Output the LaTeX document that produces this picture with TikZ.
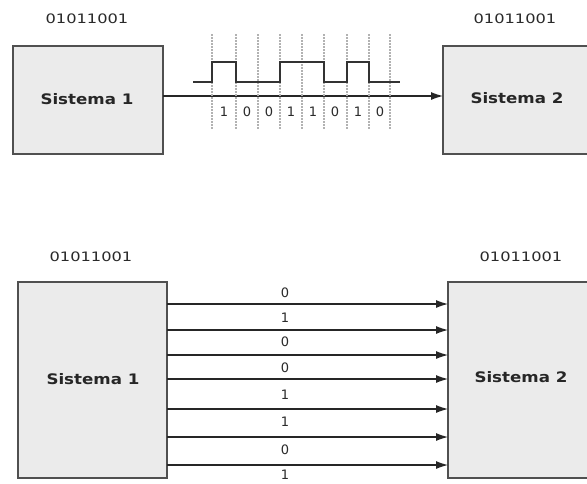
\documentclass[tikz,border=0pt]{standalone}
\usepackage{fontspec}
\setmainfont{DejaVu Sans}
\usetikzlibrary{arrows.meta}
\definecolor{boxfill}{HTML}{EBEBEB}
\definecolor{boxline}{HTML}{505050}
\definecolor{txt}{HTML}{2A2A2A}
\newcommand{\wid}[2]{\scalebox{#1}[1]{#2}}
\tikzset{
  px/.style={x=1pt,y=-1pt},
  sysbox/.style={draw=boxline,fill=boxfill,line width=1.4pt,inner sep=0pt},
  systext/.style={font=\fontsize{14.5}{16}\selectfont\bfseries,text=black!85},
  word/.style={font=\fontsize{13}{15}\selectfont,text=txt},
  bit/.style={font=\fontsize{13}{15}\selectfont,text=txt},
  conn/.style={line width=1.1pt,draw=black!85,-{Latex[length=12pt,width=8pt]}},
  wave/.style={line width=1.3pt,draw=black!80},
  grid/.style={draw=gray!60,line width=1.1pt,dash pattern=on 1.5pt off 1.5pt}
}
\begin{document}
\begin{tikzpicture}[px]
\clip (0,0) rectangle (587,483);
\fill[white] (0,0) rectangle (587,483);
% ---- top: serial ----
\node[sysbox,minimum width=150pt,minimum height=108pt] (s1) at (88,100) {};
\node[systext] (s1t) at (87,99) {\wid{1.15}{Sistema 1}};
\node[sysbox,minimum width=148pt,minimum height=108pt] (s2) at (517,100) {};
\node[systext] (s2t) at (517,98) {\wid{1.15}{Sistema 2}};
\node[word] (w1) at (87,19) {\wid{1.25}{01011001}};
\node[word] (w2) at (515,19) {\wid{1.25}{01011001}};
\coordinate (a1) at (163,96);
\coordinate (a2) at (443,96);
\draw[conn] (a1) -- (a2);
% dotted bit boundaries
\foreach \x in {212,236,258,280,302,324,347,369,390}
  \draw[grid] (\x,34) -- (\x,129);
% waveform 1 0 0 1 1 0 1 0
\draw[wave] (193,82) -- (212,82) -- (212,62) -- (236,62) -- (236,82) -- (280,82)
  -- (280,62) -- (324,62) -- (324,82) -- (347,82) -- (347,62) -- (369,62)
  -- (369,82) -- (400,82);
\foreach \x/\b in {224/1,247/0,269/0,291/1,313/1,335/0,358/1,380/0}
  \node[bit] at (\x,112) {\b};
% ---- bottom: parallel ----
\node[sysbox,minimum width=149pt,minimum height=196pt] (p1) at (92.5,380) {};
\node[systext] (p1t) at (93,379) {\wid{1.15}{Sistema 1}};
\node[sysbox,minimum width=146pt,minimum height=196pt] (p2) at (521,380) {};
\node[systext] (p2t) at (521,377) {\wid{1.15}{Sistema 2}};
\node[word] (w3) at (91,257) {\wid{1.25}{01011001}};
\node[word] (w4) at (521,257) {\wid{1.25}{01011001}};
\foreach \y [count=\i] in {304,330,355,379,409,437,465}{
  \coordinate (l\i) at (167,\y);
  \coordinate (r\i) at (448,\y);
  \draw[conn] (l\i) -- (r\i);
}
\foreach \y/\b in {293/0,318/1,342/0,368/0,395/1,422/1,450/0,475/1}
  \node[bit] at (285,\y) {\b};
\end{tikzpicture}
\end{document}
